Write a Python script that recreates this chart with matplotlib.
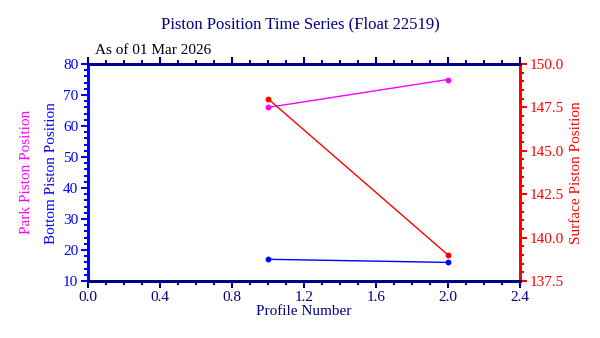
import matplotlib
matplotlib.use("Agg")
import matplotlib.pyplot as plt
from matplotlib.ticker import MultipleLocator, FormatStrFormatter

# data
profiles = [1, 2]
park_pos = [66, 75]
bottom_pos = [17, 16]
surface_pos = [148, 139]

NAVY = "#000080"
BLUE = "#0000ff"
RED = "#ff0000"
MAGENTA = "#ff00ff"

plt.rcParams["font.family"] = ["Liberation Serif", "DejaVu Serif"]
plt.rcParams["font.size"] = 10

fig = plt.figure(figsize=(6.0, 3.38), dpi=100)
ax = fig.add_axes([88 / 600, 1 - 281 / 338, 432 / 600, 217 / 338])
ax2 = ax.twinx()

ax.plot(profiles, park_pos, color=MAGENTA, lw=1, marker="o", ms=3.2)
ax.plot(profiles, bottom_pos, color=BLUE, lw=1, marker="o", ms=3.2)
ax2.plot(profiles, surface_pos, color=RED, lw=1, marker="o", ms=3.2)

ax.set_xlim(0, 2.4)
ax.set_ylim(10, 80)
ax2.set_ylim(137.5, 150)

ax.xaxis.set_major_locator(MultipleLocator(0.4))
ax.xaxis.set_minor_locator(MultipleLocator(0.1))
ax.xaxis.set_major_formatter(FormatStrFormatter("%.1f"))
ax.yaxis.set_major_locator(MultipleLocator(10))
ax.yaxis.set_minor_locator(MultipleLocator(2))
ax2.yaxis.set_major_locator(MultipleLocator(2.5))
ax2.yaxis.set_minor_locator(MultipleLocator(0.5))
ax2.yaxis.set_major_formatter(FormatStrFormatter("%.1f"))

for a in (ax, ax2):
    for s in a.spines.values():
        s.set_linewidth(2)
    a.spines["top"].set_color(NAVY)
    a.spines["bottom"].set_color(NAVY)
    a.spines["left"].set_color(BLUE)
    a.spines["right"].set_color(RED)

ax.tick_params(axis="x", which="both", top=True, direction="out", colors=NAVY, width=1.5)
ax.tick_params(axis="x", which="major", length=5, labelsize=11, pad=2)
ax.tick_params(axis="x", which="minor", length=3)
ax.tick_params(axis="y", which="both", direction="out", colors=BLUE, width=1.5)
ax.tick_params(axis="y", which="major", length=5, labelsize=11, pad=2)
ax.tick_params(axis="y", which="minor", length=3)
ax2.tick_params(axis="y", which="both", direction="out", colors=RED, width=1.5)
ax2.tick_params(axis="y", which="major", length=5, labelsize=11, pad=2)
ax2.tick_params(axis="y", which="minor", length=3)

ax.set_xlabel("Profile Number", color=NAVY, fontsize=11, labelpad=1)
ax2.set_ylabel("Surface Piston Position", color=RED, fontsize=11, labelpad=4)
fig.text(52 / 600, 1 - 173 / 338, "Bottom Piston Position", color=BLUE, fontsize=11,
         rotation=90, ha="center", va="center")
fig.text(27 / 600, 1 - 172 / 338, "Park Piston Position", color=MAGENTA, fontsize=11,
         rotation=90, ha="center", va="center")

fig.text(0.5, 1 - 24 / 338, "Piston Position Time Series (Float 22519)", color=NAVY,
         fontsize=12, ha="center", va="center")
fig.text(95 / 600, 1 - 50 / 338, "As of 01 Mar 2026", color="black", fontsize=11,
         ha="left", va="center")

fig.savefig("out.png", dpi=100)
